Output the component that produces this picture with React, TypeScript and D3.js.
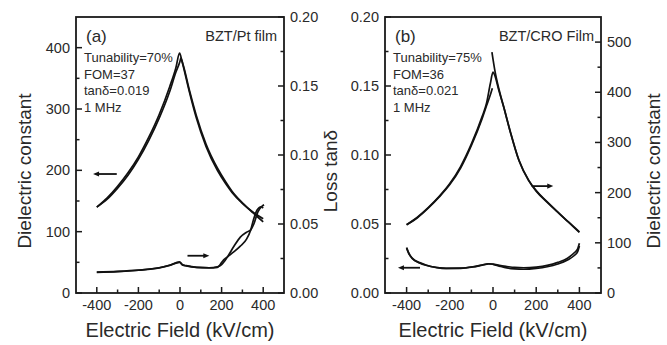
import React from "react";
import * as d3 from "d3";

// ---------- Data ----------
// Panel (a): BZT/Pt film
const aDielUpX = [-400, -350, -300, -250, -200, -150, -100, -50, -20, -2, 10, 45, 78, 125, 181, 220, 250, 300, 350, 400];
const aDielUpY = [140, 155, 174, 196, 222, 254, 291, 336, 367, 391, 377, 328, 286, 239, 199, 178, 164, 146, 132, 121];
const aDielDnX = [-400, -350, -300, -250, -200, -150, -100, -50, -20, 0, 4, 15, 45, 78, 125, 181, 220, 250, 300, 350, 400];
const aDielDnY = [140, 153, 171, 192, 218, 249, 285, 328, 360, 378, 383, 372, 331, 290, 243, 203, 181, 166, 147, 131, 116];

const aLossAX = [-400, -300, -200, -100, -50, -2, 12, 30, 80, 140, 180, 200, 215, 229, 260, 290, 320, 340, 355, 375, 395, 404];
const aLossAY = [0.0150, 0.0155, 0.0165, 0.0182, 0.0200, 0.0225, 0.0205, 0.0198, 0.0186, 0.0183, 0.0190, 0.0205, 0.0232, 0.0263, 0.0340, 0.0405, 0.0440, 0.0457, 0.0500, 0.0590, 0.0630, 0.0640];
const aLossBX = [-400, -300, -200, -100, -50, -2, 12, 30, 80, 140, 180, 195, 210, 229, 260, 290, 320, 340, 355, 370, 390, 400];
const aLossBY = [0.0152, 0.0157, 0.0166, 0.0183, 0.0201, 0.0222, 0.0203, 0.0196, 0.0185, 0.0182, 0.0186, 0.0210, 0.0240, 0.0263, 0.0300, 0.0340, 0.0390, 0.0457, 0.0540, 0.0600, 0.0625, 0.0615];

// Panel (b): BZT/CRO film
const bDielAX = [-5, 10, 30, 50, 80, 120, 165, 200, 250, 300, 350, 400];
const bDielAY = [480, 440, 402, 370, 322, 265, 225, 204, 182, 161, 141, 121];
const bDielBX = [-400, -350, -300, -250, -200, -150, -100, -50, -30, -12, 0, 8, 25, 50, 80, 120, 165, 200, 250, 300, 350, 400];
const bDielBY = [136, 151, 170, 192, 218, 252, 297, 352, 378, 418, 440, 434, 407, 370, 321, 264, 224, 203, 181, 161, 141, 122];
const bDielCX = [-400, -350, -300, -250, -200, -150, -100, -50, -30, -10, -3];
const bDielCY = [136, 150, 169, 191, 216, 249, 294, 348, 373, 398, 408];

const bLossAX = [-400, -390, -373, -340, -311, -260, -217, -150, -92, -50, -20, 0, 30, 64, 100, 142, 200, 251, 300, 345, 375, 392, 400];
const bLossAY = [0.0330, 0.0290, 0.0251, 0.0220, 0.0203, 0.0185, 0.0179, 0.0180, 0.0190, 0.0203, 0.0212, 0.0208, 0.0195, 0.0182, 0.0175, 0.0172, 0.0178, 0.0190, 0.0210, 0.0239, 0.0270, 0.0300, 0.0340];
const bLossBX = [-400, -390, -373, -340, -311, -260, -217, -150, -92, -50, -20, 0, 30, 64, 100, 142, 200, 251, 300, 345, 375, 392, 400];
const bLossBY = [0.0325, 0.0286, 0.0248, 0.0218, 0.0201, 0.0184, 0.0178, 0.0179, 0.0189, 0.0202, 0.0211, 0.0210, 0.0200, 0.0192, 0.0185, 0.0183, 0.0188, 0.0200, 0.0222, 0.0252, 0.0290, 0.0320, 0.0360];

const xTicks = [-400, -200, 0, 200, 400];
const xMinor = [-300, -100, 100, 300];
const dielTicksA = [0, 100, 200, 300, 400];
const dielMinorA = [50, 150, 250, 350];
const dielTicksB = [0, 100, 200, 300, 400, 500];
const dielMinorB = [50, 150, 250, 350, 450];
const lossTicks = [0, 0.05, 0.1, 0.15, 0.2];
const lossMinor = [0.025, 0.075, 0.125, 0.175];

const infoA = ["Tunability=70%", "FOM=37", "tanδ=0.019", "1 MHz"];
const infoB = ["Tunability=75%", "FOM=36", "tanδ=0.021", "1 MHz"];

const FONT = "Liberation Sans, Arial, Helvetica, sans-serif";
const TXT = "#2a2a2a";
const AX = "#1a1a1a";

function zip(xs: number[], ys: number[]) {
  return xs.map((x, i) => [x, ys[i]] as [number, number]);
}

type Series = { xs: number[]; ys: number[]; axis: "L" | "R" };
type Arrow = { x0: number; x1: number; y: number; axis: "L" | "R"; dir: "left" | "right" };

function Panel(props: {
  x0: number; x1: number; top: number; bottom: number;
  leftDomain: [number, number]; rightDomain: [number, number];
  leftTicks: number[]; leftMinor: number[]; leftFmt: (v: number) => string;
  rightTicks: number[]; rightMinor: number[]; rightFmt: (v: number) => string;
  series: Series[]; arrows: Arrow[];
  label: string; film: string; info: string[];
  id: string;
}) {
  const { x0, x1, top, bottom } = props;
  const x = d3.scaleLinear().domain([-500, 500]).range([x0, x1]);
  const yL = d3.scaleLinear().domain(props.leftDomain).range([bottom, top]);
  const yR = d3.scaleLinear().domain(props.rightDomain).range([bottom, top]);
  const lineL = d3.line<[number, number]>().x(d => x(d[0])).y(d => yL(d[1])).curve(d3.curveMonotoneX);
  const lineR = d3.line<[number, number]>().x(d => x(d[0])).y(d => yR(d[1])).curve(d3.curveMonotoneX);
  const major = 6, minor = 3.5;
  const tf = 14.5;
  return (
    <g>
      {props.series.map((s, i) => (
        <path key={i} d={(s.axis === "L" ? lineL : lineR)(zip(s.xs, s.ys)) || ""} fill="none" stroke="#111" strokeWidth={1.7} />
      ))}
      {props.arrows.map((a, i) => {
        const yy = (a.axis === "L" ? yL : yR)(a.y);
        const xa = x(a.x0), xb = x(a.x1);
        const tip = a.dir === "left" ? xa : xb;
        const tail = a.dir === "left" ? xb : xa;
        const s = a.dir === "left" ? 1 : -1;
        return (
          <g key={"ar" + i}>
            <line x1={tail} x2={tip + s * 4} y1={yy} y2={yy} stroke="#111" strokeWidth={1.8} />
            <path d={`M${tip},${yy} L${tip + s * 6},${yy - 2.6} L${tip + s * 6},${yy + 2.6} Z`} fill="#111" />
          </g>
        );
      })}
      {/* frame */}
      <rect x={x0} y={top} width={x1 - x0} height={bottom - top} fill="none" stroke={AX} strokeWidth={1.8} />
      {/* x ticks */}
      {xTicks.map(t => (
        <g key={"xt" + t}>
          <line x1={x(t)} x2={x(t)} y1={bottom} y2={bottom - major} stroke={AX} strokeWidth={1.5} />
          <text x={x(t)} y={bottom + 17} textAnchor="middle" fontSize={tf} fill={TXT} fontFamily={FONT}>{t}</text>
        </g>
      ))}
      {xMinor.map(t => (
        <line key={"xm" + t} x1={x(t)} x2={x(t)} y1={bottom} y2={bottom - minor} stroke={AX} strokeWidth={1.5} />
      ))}
      {/* left ticks */}
      {props.leftTicks.map(t => (
        <g key={"lt" + t}>
          <line x1={x0} x2={x0 + major} y1={yL(t)} y2={yL(t)} stroke={AX} strokeWidth={1.5} />
          <text x={x0 - 6} y={yL(t) + 5} textAnchor="end" fontSize={tf} fill={TXT} fontFamily={FONT}>{props.leftFmt(t)}</text>
        </g>
      ))}
      {props.leftMinor.map(t => (
        <line key={"lm" + t} x1={x0} x2={x0 + minor} y1={yL(t)} y2={yL(t)} stroke={AX} strokeWidth={1.5} />
      ))}
      {/* right ticks */}
      {props.rightTicks.map(t => (
        <g key={"rt" + t}>
          <line x1={x1} x2={x1 - major} y1={yR(t)} y2={yR(t)} stroke={AX} strokeWidth={1.5} />
          <text x={x1 + 6} y={yR(t) + 5} textAnchor="start" fontSize={tf} fill={TXT} fontFamily={FONT}>{props.rightFmt(t)}</text>
        </g>
      ))}
      {props.rightMinor.map(t => (
        <line key={"rm" + t} x1={x1} x2={x1 - minor} y1={yR(t)} y2={yR(t)} stroke={AX} strokeWidth={1.5} />
      ))}
      {/* annotations */}
      <text x={x0 + 10} y={top + 25} fontSize={17} fill={TXT} fontFamily={FONT}>{props.label}</text>
      <text x={x1 - 7} y={top + 24} textAnchor="end" fontSize={14.5} fill={TXT} fontFamily={FONT}>{props.film}</text>
      {props.info.map((s, i) => (
        <text key={"in" + i} x={x0 + 8} y={top + 45 + i * 16.7} fontSize={13} fill={TXT} fontFamily={FONT}>{s}</text>
      ))}
      <text x={(x0 + x1) / 2} y={bottom + 44} textAnchor="middle" fontSize={20} fill={TXT} fontFamily={FONT}>Electric Field (kV/cm)</text>
    </g>
  );
}

export default function App() {
  const f0 = (v: number) => String(v);
  const f2 = (v: number) => v.toFixed(2);
  return (
    <svg width={667} height={345} style={{ display: "block", position: "absolute", left: 0, top: 0, background: "#fff" }}>
      <rect width={667} height={345} fill="#fff" />
      <Panel
        id="a" x0={76} x1={284} top={17} bottom={293}
        leftDomain={[0, 450]} rightDomain={[0, 0.2]}
        leftTicks={dielTicksA} leftMinor={dielMinorA} leftFmt={f0}
        rightTicks={lossTicks} rightMinor={lossMinor} rightFmt={f2}
        series={[
          { xs: aDielUpX, ys: aDielUpY, axis: "L" },
          { xs: aDielDnX, ys: aDielDnY, axis: "L" },
          { xs: aLossAX, ys: aLossAY, axis: "R" },
          { xs: aLossBX, ys: aLossBY, axis: "R" },
        ]}
        arrows={[
          { x0: -418, x1: -304, y: 194, axis: "L", dir: "left" },
          { x0: 36, x1: 141, y: 0.027, axis: "R", dir: "right" },
        ]}
        label="(a)" film="BZT/Pt film" info={infoA}
      />
      <Panel
        id="b" x0={385} x1={601} top={17} bottom={293}
        leftDomain={[0, 0.2]} rightDomain={[0, 550]}
        leftTicks={lossTicks} leftMinor={lossMinor} leftFmt={f2}
        rightTicks={dielTicksB} rightMinor={dielMinorB} rightFmt={f0}
        series={[
          { xs: bDielAX, ys: bDielAY, axis: "R" },
          { xs: bDielBX, ys: bDielBY, axis: "R" },
          { xs: bDielCX, ys: bDielCY, axis: "R" },
          { xs: bLossAX, ys: bLossAY, axis: "L" },
          { xs: bLossBX, ys: bLossBY, axis: "L" },
        ]}
        arrows={[
          { x0: 179, x1: 279, y: 213, axis: "R", dir: "right" },
          { x0: -440, x1: -338, y: 0.0183, axis: "L", dir: "left" },
        ]}
        label="(b)" film="BZT/CRO Film" info={infoB}
      />
      <text transform="translate(31,171) rotate(-90)" textAnchor="middle" fontSize={19} fill={TXT} fontFamily={FONT}>Dielectric constant</text>
      <text transform="translate(337,171) rotate(-90)" textAnchor="middle" fontSize={19} fill={TXT} fontFamily={FONT}>Loss tanδ</text>
      <text transform="translate(660,171) rotate(-90)" textAnchor="middle" fontSize={19} fill={TXT} fontFamily={FONT}>Dielectric constant</text>
    </svg>
  );
}
